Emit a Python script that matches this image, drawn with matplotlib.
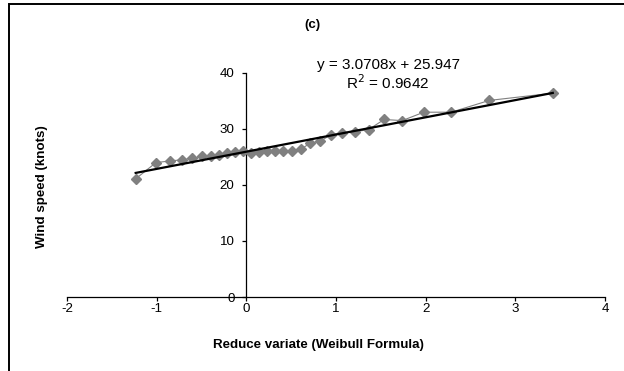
import matplotlib
matplotlib.use("Agg")
import matplotlib.pyplot as plt
from matplotlib.patches import Rectangle

plt.rcParams['font.family'] = ['Liberation Sans', 'DejaVu Sans']
plt.rcParams['axes.unicode_minus'] = False

reduced_variate = [-1.234, -1.008, -0.848, -0.717, -0.601, -0.496, -0.398, -0.303,
                   -0.212, -0.123, -0.036, 0.052, 0.140, 0.230, 0.320, 0.413,
                   0.510, 0.610, 0.714, 0.825, 0.943, 1.070, 1.209, 1.363,
                   1.537, 1.738, 1.979, 2.285, 2.708, 3.418]
wind_speed = [21.1, 24.0, 24.3, 24.5, 24.8, 25.1, 25.2, 25.4, 25.7, 25.9,
              26.0, 25.8, 25.9, 26.1, 26.1, 26.1, 26.1, 26.4, 27.5, 27.8,
              29.0, 29.3, 29.5, 29.9, 31.7, 31.5, 33.0, 33.0, 35.1, 36.4]

# trendline as printed on the chart
slope = 3.0708
intercept = 25.947
r_squared = 0.9642

x_ticks = [-2, -1, 0, 1, 2, 3, 4]
y_ticks = [0, 10, 20, 30, 40]

fig = plt.figure(figsize=(6.24, 3.71), dpi=100)
ax = fig.add_axes([67/624, 1 - 297/371, (605 - 67)/624, (297 - 73)/371])

# data series: gray diamonds joined by a thin gray line
ax.plot(reduced_variate, wind_speed, color='#808080', linewidth=0.8,
        marker='D', markersize=5, markerfacecolor='#808080',
        markeredgecolor='#808080', zorder=3)

# linear trendline across the data range
x0, x1 = min(reduced_variate), max(reduced_variate)
ax.plot([x0, x1], [slope * x0 + intercept, slope * x1 + intercept],
        color='black', linewidth=1.6, zorder=4)

ax.set_xlim(-2, 4)
ax.set_ylim(0, 40)
ax.set_xticks(x_ticks)
ax.set_yticks(y_ticks)

# axes cross at the origin, Excel style
ax.spines['left'].set_position(('data', 0))
ax.spines['bottom'].set_position(('data', 0))
ax.spines['top'].set_visible(False)
ax.spines['right'].set_visible(False)
for s in ('left', 'bottom'):
    ax.spines[s].set_linewidth(0.9)
ax.tick_params(direction='out', length=3, width=0.9, labelsize=9.6)
ax.tick_params(axis='x', pad=1.5)
ax.tick_params(axis='y', pad=5.5)

ax.text(1.58, 41.4, f'y = {slope}x + {intercept}', ha='center', va='center', fontsize=11)
ax.text(1.58, 38.2, f'R$^2$ = {r_squared}', ha='center', va='center', fontsize=11)

fig.text(312/624, 1 - 25/371, '(c)', ha='center', va='center',
         fontsize=9.6, fontweight='bold')
fig.text(318/624, 1 - 345/371, 'Reduce variate (Weibull Formula)', ha='center',
         va='center', fontsize=9.6, fontweight='bold')
fig.text(42/624, 1 - 187/371, 'Wind speed (knots)', ha='center', va='center',
         rotation=90, fontsize=9.6, fontweight='bold')

# outer chart frame (only left and top edges fall inside the image)
fig.patches.append(Rectangle((9/624, -0.1), 1.2, (371 - 4)/371 + 0.1,
                             transform=fig.transFigure, fill=False,
                             edgecolor='black', linewidth=1.4))

fig.savefig('out.png', dpi=100)
